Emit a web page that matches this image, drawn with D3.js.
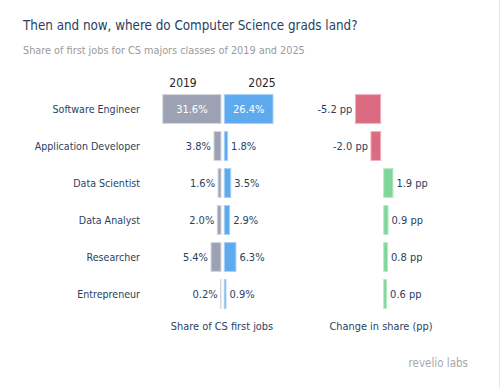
<!DOCTYPE html>
<html>
<head>
<meta charset="utf-8">
<script src="https://cdn.jsdelivr.net/npm/d3@7"></script>
<style>
  body { margin: 0; background: #fff; }
  svg { display: block; font-family: "DejaVu Sans Condensed", "DejaVu Sans", Verdana, sans-serif; }
</style>
</head>
<body>
<svg width="500" height="388"></svg>
<script>
// data
var categories = ["Software Engineer", "Application Developer", "Data Scientist", "Data Analyst", "Researcher", "Entrepreneur"];
var share2019 = [31.6, 3.8, 1.6, 2.0, 5.4, 0.2];
var share2025 = [26.4, 1.8, 3.5, 2.9, 6.3, 0.9];
var changePP = [-5.2, -2.0, 1.9, 0.9, 0.8, 0.6];
var yearLabels = ["2019", "2025"];

var svg = d3.select("svg");
var textColor = "#2a3f5f";

// frame edge
svg.append("line")
    .attr("x1", 499.5).attr("x2", 499.5)
    .attr("y1", 0).attr("y2", 388)
    .attr("stroke", "#e6e6e6");

// titles
svg.append("text")
    .attr("x", 23).attr("y", 30)
    .attr("font-size", 13.3)
    .attr("fill", textColor)
    .text("Then and now, where do Computer Science grads land?");

svg.append("text")
    .attr("x", 23).attr("y", 54)
    .attr("font-size", 10.8)
    .attr("fill", "#9a9a9a")
    .text("Share of first jobs for CS majors classes of 2019 and 2025");

// scales
var y = d3.scaleBand()
    .domain(categories)
    .range([90.5, 312.5])
    .paddingInner(0.22)
    .paddingOuter(0.11);

var shareW = d3.scaleLinear().domain([0, 31.6]).range([0, 58.3]);
var changeW = d3.scaleLinear().domain([0, 5.2]).range([0, 25.3]);

var left0 = 221, right0 = 224.3;   // share zero lines
var neg0 = 380.7, pos0 = 383.7;    // change zero lines

var rows = categories.map(function (c, i) {
    return { cat: c, a: share2019[i], b: share2025[i], d: changePP[i] };
});

// category labels
svg.selectAll(".cat")
    .data(rows)
    .enter()
    .append("text")
    .attr("class", "cat")
    .attr("x", 140)
    .attr("y", function (d) { return y(d.cat) + y.bandwidth() / 2; })
    .attr("dy", "0.35em")
    .attr("text-anchor", "end")
    .attr("font-size", 10.6)
    .attr("fill", textColor)
    .text(function (d) { return d.cat; });

// year headers
svg.selectAll(".year")
    .data(yearLabels)
    .enter()
    .append("text")
    .attr("x", function (d, i) { return i === 0 ? 183 : 262; })
    .attr("y", 87)
    .attr("text-anchor", "middle")
    .attr("font-size", 12)
    .attr("fill", "#1f1f1f")
    .text(function (d) { return d; });

// 2019 bars
svg.selectAll(".b2019")
    .data(rows)
    .enter()
    .append("rect")
    .attr("class", "b2019")
    .attr("x", function (d) { return left0 - shareW(d.a); })
    .attr("y", function (d) { return y(d.cat); })
    .attr("width", function (d) { return shareW(d.a); })
    .attr("height", y.bandwidth())
    .attr("fill", "#9ca2b3")
    .attr("stroke", "#d3d6de")
    .attr("stroke-width", 1);

// 2025 bars
svg.selectAll(".b2025")
    .data(rows)
    .enter()
    .append("rect")
    .attr("class", "b2025")
    .attr("x", right0)
    .attr("y", function (d) { return y(d.cat); })
    .attr("width", function (d) { return shareW(d.b); })
    .attr("height", y.bandwidth())
    .attr("fill", "#5eaaee")
    .attr("stroke", "#a9d1f6")
    .attr("stroke-width", 1);

// share labels, inside when the bar is wide
function fmt(v) { return v.toFixed(1) + "%"; }

svg.selectAll(".l2019")
    .data(rows)
    .enter()
    .append("text")
    .attr("x", function (d) {
        return shareW(d.a) > 40 ? left0 - shareW(d.a) / 2 : left0 - shareW(d.a) - 3;
    })
    .attr("y", function (d) { return y(d.cat) + y.bandwidth() / 2; })
    .attr("dy", "0.35em")
    .attr("text-anchor", function (d) { return shareW(d.a) > 40 ? "middle" : "end"; })
    .attr("font-size", 11)
    .attr("fill", function (d) { return shareW(d.a) > 40 ? "#fff" : textColor; })
    .text(function (d) { return fmt(d.a); });

svg.selectAll(".l2025")
    .data(rows)
    .enter()
    .append("text")
    .attr("x", function (d) {
        return shareW(d.b) > 40 ? right0 + shareW(d.b) / 2 : right0 + shareW(d.b) + 3.5;
    })
    .attr("y", function (d) { return y(d.cat) + y.bandwidth() / 2; })
    .attr("dy", "0.35em")
    .attr("text-anchor", function (d) { return shareW(d.b) > 40 ? "middle" : "start"; })
    .attr("font-size", 11)
    .attr("fill", function (d) { return shareW(d.b) > 40 ? "#fff" : textColor; })
    .text(function (d) { return fmt(d.b); });

// change bars
svg.selectAll(".chg")
    .data(rows)
    .enter()
    .append("rect")
    .attr("class", "chg")
    .attr("x", function (d) { return d.d < 0 ? neg0 - changeW(-d.d) : pos0; })
    .attr("y", function (d) { return y(d.cat); })
    .attr("width", function (d) { return changeW(Math.abs(d.d)); })
    .attr("height", y.bandwidth())
    .attr("fill", function (d) { return d.d < 0 ? "#db6b80" : "#7fd69a"; })
    .attr("stroke", function (d) { return d.d < 0 ? "#efb3be" : "#b9eac8"; })
    .attr("stroke-width", 1);

svg.selectAll(".chgl")
    .data(rows)
    .enter()
    .append("text")
    .attr("x", function (d) {
        return d.d < 0 ? neg0 - changeW(-d.d) - 3 : pos0 + changeW(d.d) + 3.5;
    })
    .attr("y", function (d) { return y(d.cat) + y.bandwidth() / 2; })
    .attr("dy", "0.35em")
    .attr("text-anchor", function (d) { return d.d < 0 ? "end" : "start"; })
    .attr("font-size", 11)
    .attr("fill", textColor)
    .text(function (d) { return d.d.toFixed(1) + " pp"; });

// bottom titles
svg.append("text")
    .attr("x", 222).attr("y", 330)
    .attr("text-anchor", "middle")
    .attr("font-size", 10.9)
    .attr("fill", textColor)
    .text("Share of CS first jobs");

svg.append("text")
    .attr("x", 381).attr("y", 330)
    .attr("text-anchor", "middle")
    .attr("font-size", 10.9)
    .attr("fill", textColor)
    .text("Change in share (pp)");

// logo
svg.append("text")
    .attr("x", 468).attr("y", 367)
    .attr("text-anchor", "end")
    .attr("font-size", 11.5)
    .attr("fill", "#a8a8a8")
    .text("revelio labs");
</script>
</body>
</html>
